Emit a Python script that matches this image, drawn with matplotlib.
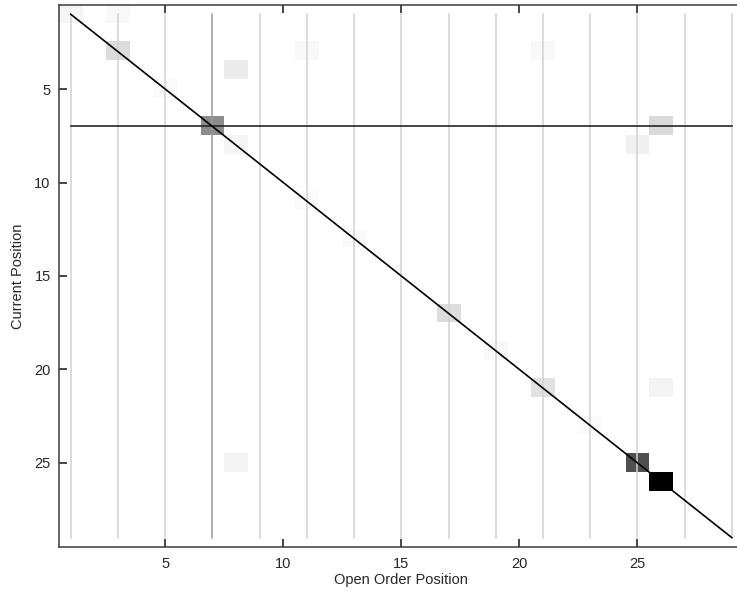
import numpy as np
import matplotlib
matplotlib.use("Agg")
import matplotlib.pyplot as plt

plt.rcParams["font.family"] = ["Liberation Sans", "DejaVu Sans"]

# cells of the position matrix: open order position, current position, weight
open_pos = [1, 3, 3, 5, 7, 8, 8, 11, 11, 13, 21, 26, 25, 17, 19, 21, 26, 23, 25, 26, 8]
current_pos = [1, 1, 3, 5, 7, 4, 8, 3, 11, 13, 3, 7, 8, 17, 19, 21, 21, 23, 25, 26, 25]
weight = [0.04, 0.03, 0.14, 0.02, 0.45, 0.08, 0.04, 0.03, 0.02, 0.02, 0.03,
          0.15, 0.06, 0.14, 0.03, 0.12, 0.05, 0.02, 0.69, 1.0, 0.05]

n = 29
marker_rows = list(range(1, n + 1, 2))
highlight = 7
xticks = [5, 10, 15, 20, 25]
yticks = [5, 10, 15, 20, 25]

grid = np.zeros((n, n))
for x, y, w in zip(open_pos, current_pos, weight):
    grid[y - 1, x - 1] = w

fig = plt.figure(figsize=(7.37, 5.95), dpi=100)
ax = fig.add_axes([0.080, 0.0807, 0.929, 0.911])

ax.imshow(grid, cmap="gray_r", vmin=0, vmax=1, interpolation="nearest",
          extent=[0.5, n + 0.5, n + 0.5, 0.5], aspect="auto")

for x in marker_rows:
    c = "#9a9a9a" if x == highlight else "#d2d2d2"
    ax.plot([x, x], [1, n], color=c, lw=1.1, zorder=2)

ax.plot([1, n], [highlight, highlight], color="#262626", lw=1.2, zorder=3)
ax.plot([1, n], [1, n], color="black", lw=1.2, zorder=3)

ax.set_xlim(0.5, n + 0.5)
ax.set_ylim(n + 0.5, 0.5)
ax.set_xticks(xticks)
ax.set_yticks(yticks)
ax.tick_params(direction="in", top=True, right=False, length=6, width=1.2,
               colors="#262626", labelsize=10.5, labelcolor="#262626")
ax.tick_params(axis="x", pad=7)
ax.tick_params(axis="y", pad=6)
for s in ax.spines.values():
    s.set_color("#3a3a3a")
    s.set_linewidth(1.1)
ax.spines["right"].set_visible(False)

ax.set_xlabel("Open Order Position", fontsize=10.5, color="#262626", labelpad=2)
ax.set_ylabel("Current Position", fontsize=10.5, color="#262626", labelpad=7)

fig.savefig("out.png", dpi=100)
